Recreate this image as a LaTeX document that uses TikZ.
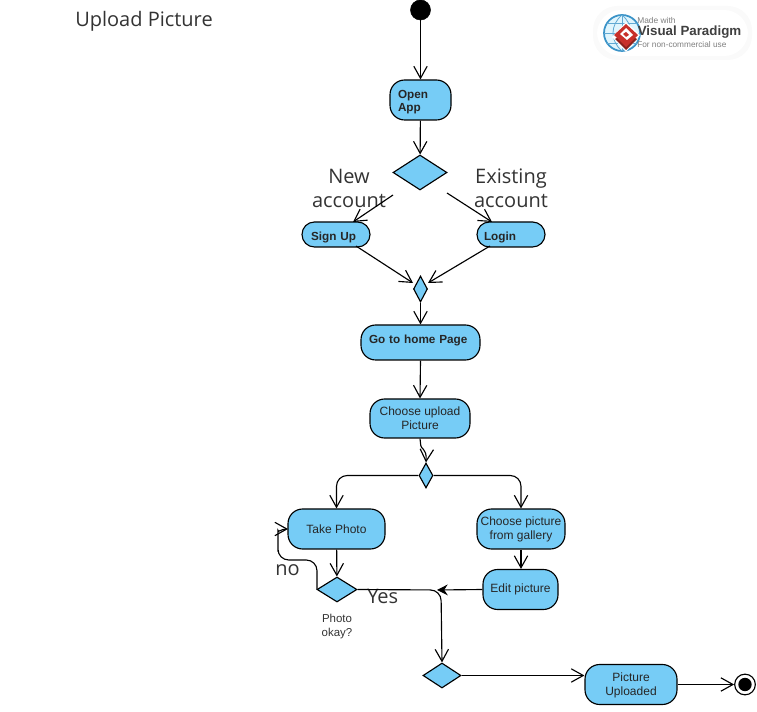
\documentclass[tikz,border=0pt]{standalone}
\usepackage{fontspec}
\setmainfont{Liberation Sans}
\newfontfamily\labelfont{Open Sans}
\usetikzlibrary{shapes.geometric,arrows.meta,calc}
\definecolor{actblue}{HTML}{76CCF6}
\definecolor{lbl}{HTML}{333333}
\definecolor{vpred}{HTML}{C8302A}
\definecolor{vpblue}{HTML}{3A93C8}
\tikzset{
  act/.style={draw=black,fill=actblue,line width=.85pt,rounded corners=11pt,inner sep=0pt,font=\fontsize{9}{10.5}\selectfont,text=black!85,align=center},
  boldact/.style={act,font=\fontsize{8.8}{10.2}\selectfont\bfseries,align=left},
  dec/.style={diamond,draw=black,fill=actblue,line width=.85pt,inner sep=0pt},
  flow/.style={draw=black,line width=.85pt,-{Straight Barb[length=9pt,width=10pt,line width=.85pt]}},
  biglabel/.style={font=\labelfont\fontsize{15}{18}\selectfont,text=lbl,align=center,inner sep=0pt},
  smalllabel/.style={font=\fontsize{8.6}{10.5}\selectfont,text=lbl,align=center,inner sep=0pt},
  logotext/.style={anchor=west,inner sep=0pt}
}
\begin{document}
\begin{tikzpicture}[x=.75pt,y=-.75pt]
\useasboundingbox (0,0) rectangle (757,712);
% watermark
\foreach \g/\e in {96/0,97/-1,98/-2}{\fill[black!\the\numexpr 100-\g\relax,rounded corners=18pt] (595+\e,8+\e) rectangle (750-\e,58-\e);}
\fill[white,rounded corners=18pt] (597,10) rectangle (748,56);
\draw[draw=vpblue,line width=1.3pt,fill=cyan!12] (622,33) circle (18);
\begin{scope}[draw=vpblue!80,line width=.6pt]
\draw (622,15) -- (622,51);
\draw (604,33) -- (640,33);
\draw (607,23) -- (637,23);
\draw (607,43) -- (637,43);
\draw (622,15) .. controls (610,25) and (610,41) .. (622,51);
\draw (622,15) .. controls (634,25) and (634,41) .. (622,51);
\end{scope}
\fill[white] (626,22) -- (640,35) -- (626,52) -- (612,37) -- cycle;
\fill[vpred!70!black] (615,39) -- (626,50) -- (637,39) -- (626,33) -- cycle;
\fill[vpred] (626,24) -- (638,35) -- (626,47) -- (614,35) -- cycle;
\fill[white] (626,28) -- (633,35) -- (627,40) -- (620,34) -- cycle;
\fill[vpred] (626,32) -- (629,35) -- (626,37) -- (623,34) -- cycle;
\node[logotext,text=black!50,font=\fontsize{6.3}{7}\selectfont] (vpa) at (637,21) {Made with};
\node[logotext,text=black!75,font=\fontsize{10}{12}\selectfont\bfseries] (vpb) at (637.5,32.5) {Visual Paradigm};
\node[logotext,text=black!50,font=\fontsize{6.2}{7}\selectfont] (vpc) at (637,45) {For non-commercial use};
% title
\node[biglabel,anchor=west] (title) at (75,21) {Upload Picture};
% nodes
\node[circle,fill=black,draw=black,minimum size=15pt,inner sep=0pt] (start) at (420.5,10) {};
\node[boldact,minimum width=45.75pt,minimum height=30pt,text width=33.75pt] (open) at (420.5,100) {\rule{0pt}{9.6pt}Open\\App};
\node[dec,minimum width=40.5pt,minimum height=26.25pt] (d1) at (420,172.5) {};
\node[boldact,rounded corners=9.3pt,minimum width=51pt,minimum height=18.75pt,text width=37.5pt] (signup) at (336,234.5) {\rule{0pt}{10.5pt}Sign Up};
\node[boldact,rounded corners=9.3pt,minimum width=51pt,minimum height=18.75pt,text width=40.5pt] (login) at (511,234.5) {\rule{0pt}{10.5pt}Login};
\node[dec,minimum width=10.5pt,minimum height=19.5pt] (d2) at (420.5,289) {};
\node[boldact,minimum width=89.25pt,minimum height=26.25pt,text width=77.25pt] (home) at (420.5,342.5) {\rule[-4.9pt]{0pt}{4.9pt}Go to home Page};
\node[act,minimum width=75pt,minimum height=29.25pt] (upload) at (420,418.5) {Choose upload\\Picture};
\node[dec,minimum width=10.5pt,minimum height=18.75pt] (d3) at (426,475.5) {};
\node[act,minimum width=72.75pt,minimum height=30pt] (take) at (336.5,529) {Take Photo};
\node[act,minimum width=66pt,minimum height=30pt] (gallery) at (521,529) {Choose picture\\from gallery};
\node[act,minimum width=56.25pt,minimum height=30pt] (edit) at (520.5,589.5) {Edit picture};
\node[dec,minimum width=30pt,minimum height=18.75pt] (d4) at (337,589.5) {};
\node[dec,minimum width=28.5pt,minimum height=18.75pt] (d5) at (442,675.5) {};
\node[act,minimum width=69pt,minimum height=30pt] (pic) at (631,684.5) {\rule{0pt}{8.6pt}Picture\\Uploaded};
\node[circle,draw=black,fill=white,line width=.85pt,minimum size=15.5pt,inner sep=0pt] (end) at (745,684.5) {};
\node[circle,fill=black,minimum size=10pt,inner sep=0pt] (endin) at (745,684.5) {};
% labels
\node[biglabel] (newacc) at (349,188) {New\\account};
\node[biglabel] (exacc) at (511,188) {Existing\\account};
\node[biglabel,anchor=west] (no) at (275,570) {no};
\node[biglabel,anchor=west] (yes) at (367,596) {Yes};
\node[smalllabel] (okay) at (337,627) {Photo\\okay?};
% free connector ends
\coordinate (d1l) at (393,195);
\coordinate (d1r) at (447,193);
\coordinate (suin) at (353,222);
\coordinate (loin) at (492,222);
\coordinate (suout) at (356,246);
\coordinate (loout) at (490,246);
\coordinate (d2l) at (413,283);
\coordinate (d2r) at (428,283);
\coordinate (junc) at (441,590);
\coordinate (juncin) at (437,590);
\coordinate (upbend) at (420.5,443);
\coordinate (loopin) at (288,529);
\coordinate (d4w) at (317,589.5);
% connectors
\draw[flow] (start) -- (open);
\draw[flow] (open) -- (d1);
\draw[flow] (d1l) -- (suin);
\draw[flow] (d1r) -- (loin);
\draw[flow] (suout) -- (d2l);
\draw[flow] (loout) -- (d2r);
\draw[flow] (d2) -- (home);
\draw[flow] (home.south) -- (upload.north);
\draw[flow] (upload.south) -- (upbend) .. controls (420.5,451) and (427,447) .. (d3.north);
\draw[flow,rounded corners=8pt] (d3.west) -| (take.north);
\draw[flow,rounded corners=8pt] (d3.east) -| (gallery.north);
\draw[flow] (take) -- (d4);
\draw[flow] (gallery.south) -- (gallery.south |- edit.north);
\draw[flow,rounded corners=8pt] (d4w) -- (317,560) -- (278,560) -- (278,541) .. controls (278,533) and (281,529) .. (loopin);
\draw[draw=black,line width=.85pt,-{Stealth[length=8pt,width=8pt]}] (edit.west) -- (juncin);
\draw[flow,rounded corners=8pt] (d4.east) -- (junc) -- (d5.north);
\draw[flow] (d5) -- (d5 -| pic.west);
\draw[flow] (pic.east) -- (end);
\end{tikzpicture}
\end{document}
